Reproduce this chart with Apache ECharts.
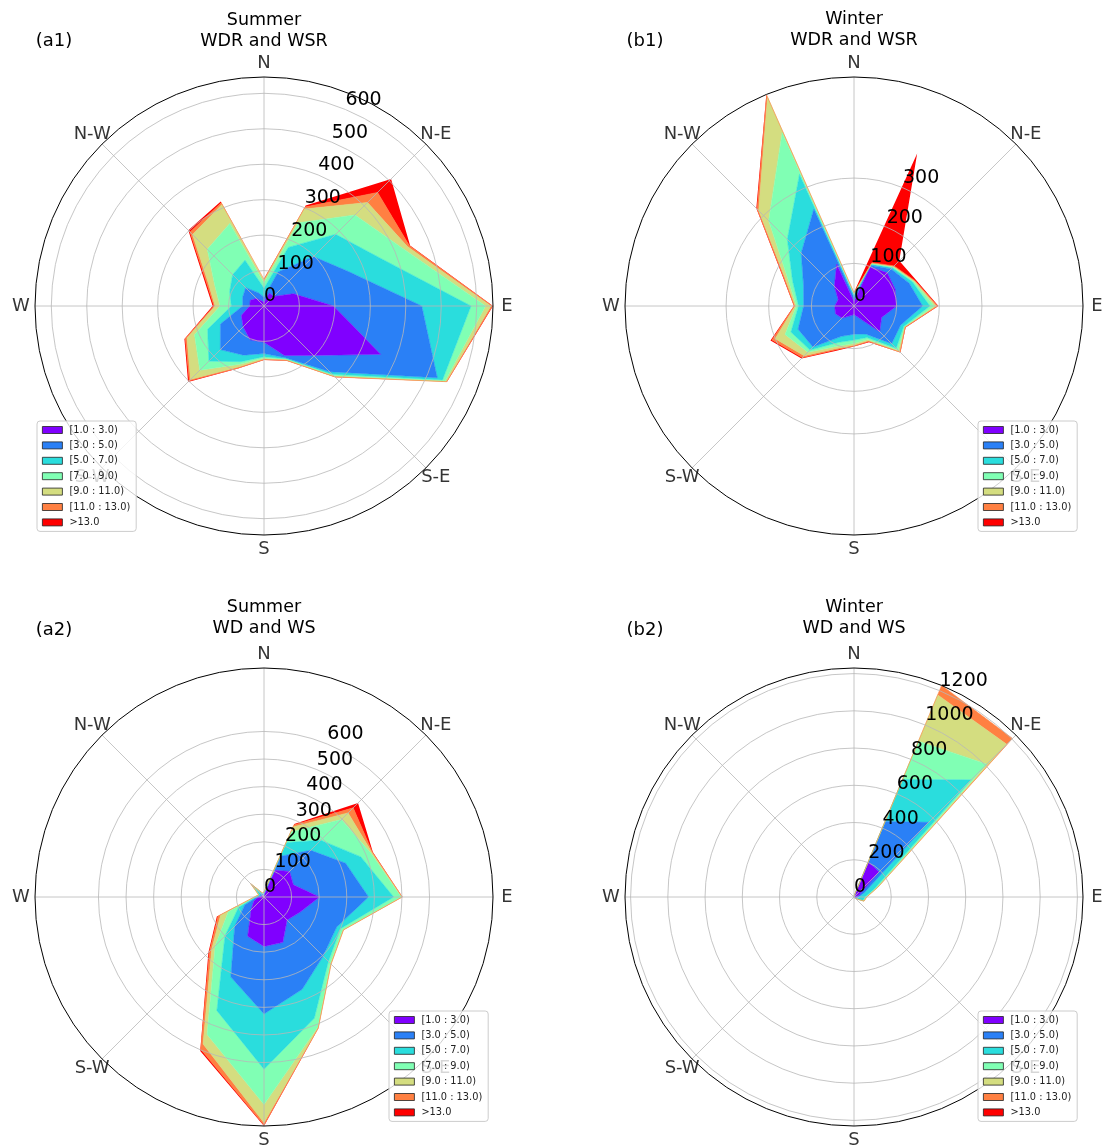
<!DOCTYPE html>
<html>
<head>
<meta charset="utf-8">
<script src="https://cdn.jsdelivr.net/npm/echarts@6/dist/echarts.min.js"></script>
<style>
html,body{margin:0;padding:0;background:#ffffff;}
#chart{width:1105px;height:1146px;}
</style>
</head>
<body>
<div id="chart"></div>
<script>
// ---------- categories ----------
const directions = ['N','NNE','NE','ENE','E','ESE','SE','SSE','S','SSW','SW','WSW','W','WNW','NW','NNW'];
const dirAngles  = [0,22.5,45,67.5,90,112.5,135,157.5,180,202.5,225,247.5,270,292.5,315,337.5];
const compassLabels = ['N','N-E','E','S-E','S','S-W','W','N-W'];
const compassAngles = [0,45,90,135,180,225,270,315];
const binNames = ['[1.0 : 3.0)','[3.0 : 5.0)','[5.0 : 7.0)','[7.0 : 9.0)','[9.0 : 11.0)','[11.0 : 13.0)','>13.0'];

// ---------- (a1) Summer, WDR and WSR : counts per speed bin, directions N..NNW ----------
const a1_bin1 = [10,40,38,90,196,356,197,151,102,103,83,69,40,42,30,15];
const a1_bin2 = [15,64,159,166,249,173,65,7,32,47,91,64,20,23,43,25];
const a1_bin3 = [25,75,89,98,139,16,10,3,9,20,46,39,32,40,52,100];
const a1_bin4 = [15,75,77,70,41,8,6,2,4,8,36,40,32,45,101,112];
const a1_bin5 = [7,42,50,14,15,4,3,2,3,8,37,23,14,20,59,58];
const a1_bin6 = [3,6,40,6,4,1,2,1,1,3,5,5,3,6,10,5];
const a1_bin7 = [2,5,54,2,2,1,1,1,1,2,5,3,4,5,7,4];

// ---------- (b1) Winter, WDR and WSR ----------
const b1_bin1 = [10,99,110,104,100,70,85,30,20,25,40,47,45,40,65,106];
const b1_bin2 = [10,4,13,36,61,48,40,41,46,52,96,95,73,88,110,140];
const b1_bin3 = [5,3,4,8,17,8,15,9,14,15,10,18,12,28,46,88];
const b1_bin4 = [3,1,2,3,10,2,7,5,8,10,7,15,5,12,62,106];
const b1_bin5 = [2,1,2,2,5,1,4,3,4,6,12,25,3,8,33,90];
const b1_bin6 = [1,2,2,2,3,1,2,2,2,3,6,8,2,3,5,5];
const b1_bin7 = [1,277,17,3,2,1,1,2,1,3,3,4,1,2,3,2];

// ---------- (a2) Summer, WD and WS ----------
const a2_bin1 = [5,105,131,115,201,142,118,178,179,154,66,40,20,8,10,5];
const a2_bin2 = [5,55,108,205,178,143,185,184,245,160,84,35,5,4,10,3];
const a2_bin3 = [5,54,52,60,91,15,27,114,200,132,50,25,5,6,25,4];
const a2_bin4 = [2,41,106,38,27,9,10,34,128,93,50,40,3,2,20,3];
const a2_bin5 = [1,20,34,5,3,2,3,3,66,38,18,30,2,1,3,1];
const a2_bin6 = [0,7,26,2,1,1,1,1,8,21,11,10,0,0,1,0];
const a2_bin7 = [0,4,25,2,1,0,0,1,4,6,6,5,0,0,1,0];

// ---------- (b2) Winter, WD and WS ----------
const b2_bin1 = [2,204,190,30,10,10,5,2,2,2,2,2,2,2,2,2];
const b2_bin2 = [1,235,377,30,15,10,3,1,1,1,1,1,1,1,1,1];
const b2_bin3 = [1,244,323,60,35,30,2,1,1,1,1,1,1,1,1,1];
const b2_bin4 = [1,222,119,15,6,5,1,0,0,0,0,0,0,0,0,0];
const b2_bin5 = [0,270,151,3,2,2,0,0,0,0,0,0,0,0,0,0];
const b2_bin6 = [0,55,44,2,1,1,0,0,0,0,0,0,0,0,0,0];
const b2_bin7 = [0,0,0,0,0,0,0,0,0,0,0,0,0,0,0,0];

// radial tick labels shown on each rose
const a1_ticks = [0,100,200,300,400,500,600];
const b1_ticks = [0,100,200,300];
const a2_ticks = [0,100,200,300,400,500,600];
const b2_ticks = [0,200,400,600,800,1000,1200];

// ---------- styles / layout ----------
const binColors = ['#8000ff','#2a80f6','#2adddd','#80ffb4','#d4dd80','#ff8042','#ff0000'];
const FONT = 'DejaVu Sans';
const R = 229;
const panels = [
  {tag:'(a1)', title:'Summer\nWDR and WSR', bins:[a1_bin1,a1_bin2,a1_bin3,a1_bin4,a1_bin5,a1_bin6,a1_bin7], ticks:a1_ticks,
   center:[264,306], titleTop:10, tagPos:[54,32], legend:{left:37, top:421}},
  {tag:'(b1)', title:'Winter\nWDR and WSR', bins:[b1_bin1,b1_bin2,b1_bin3,b1_bin4,b1_bin5,b1_bin6,b1_bin7], ticks:b1_ticks,
   center:[854,306], titleTop:9, tagPos:[645,32], legend:{left:978, top:421}},
  {tag:'(a2)', title:'Summer\nWD and WS', bins:[a2_bin1,a2_bin2,a2_bin3,a2_bin4,a2_bin5,a2_bin6,a2_bin7], ticks:a2_ticks,
   center:[264,897], titleTop:597, tagPos:[54,621], legend:{left:389, top:1011}},
  {tag:'(b2)', title:'Winter\nWD and WS', bins:[b2_bin1,b2_bin2,b2_bin3,b2_bin4,b2_bin5,b2_bin6,b2_bin7], ticks:b2_ticks,
   center:[854,897], titleTop:597, tagPos:[645,621], legend:{left:978, top:1011}}
];

const polar = [], angleAxis = [], radiusAxis = [], series = [], title = [], legend = [];
const gridColor = '#b8b8b8';

panels.forEach((p, i) => {
  const totals = directions.map((d, j) => p.bins.reduce((s, b) => s + b[j], 0));
  const rmax = Math.max(...totals);
  const ringMax = p.ticks[p.ticks.length - 1];
  const ringStep = p.ticks[1] - p.ticks[0];
  const dp = 3 * i, gp = 3 * i + 1, lp = 3 * i + 2;

  // data polar (outer circle + spokes)
  polar.push({center: p.center, radius: R});
  angleAxis.push({polarIndex: dp, type: 'value', min: 0, max: 360, interval: 45, startAngle: 90, clockwise: true, z: 10,
    axisLine: {show: true, lineStyle: {color: '#000', width: 1}}, axisTick: {show: false}, axisLabel: {show: false},
    splitLine: {show: true, lineStyle: {color: gridColor, width: 0.8}}});
  radiusAxis.push({polarIndex: dp, type: 'value', min: 0, max: rmax,
    axisLine: {show: false}, axisTick: {show: false}, axisLabel: {show: false}, splitLine: {show: false}});

  // ring polar (radial grid circles + labels at 22.5 deg east of north)
  polar.push({center: p.center, radius: R * ringMax / rmax});
  angleAxis.push({polarIndex: gp, type: 'value', min: 0, max: 360, startAngle: 67.5, clockwise: true,
    axisLine: {show: false}, axisTick: {show: false}, axisLabel: {show: false}, splitLine: {show: false}});
  radiusAxis.push({polarIndex: gp, type: 'value', min: 0, max: ringMax, interval: ringStep, z: 10,
    axisLine: {show: false}, axisTick: {show: false},
    axisLabel: {show: true, color: '#000', fontSize: 19, fontFamily: FONT, align: 'left', verticalAlign: 'bottom', margin: 0,
                showMinLabel: true, showMaxLabel: true, hideOverlap: false, formatter: v => String(v)},
    splitLine: {show: true, lineStyle: {color: gridColor, width: 0.8}}});

  // label polar (compass names)
  polar.push({center: p.center, radius: R + 14});
  angleAxis.push({polarIndex: lp, type: 'value', min: 0, max: 360, startAngle: 90, clockwise: true,
    axisLine: {show: false}, axisTick: {show: false}, axisLabel: {show: false}, splitLine: {show: false}});
  radiusAxis.push({polarIndex: lp, type: 'value', min: 0, max: 1,
    axisLine: {show: false}, axisTick: {show: false}, axisLabel: {show: false}, splitLine: {show: false}});

  // stacked filled rose
  p.bins.forEach((b, k) => {
    const pts = dirAngles.map((a, j) => [b[j], a]);
    pts.push([b[0], 360]);
    const last = k === p.bins.length - 1;
    series.push({type: 'line', name: binNames[k], coordinateSystem: 'polar', polarIndex: dp, stack: 'rose' + i,
      data: pts, symbol: 'none', smooth: false, color: binColors[k],
      lineStyle: {color: binColors[k], width: last ? 0 : 0.6}, itemStyle: {color: binColors[k]},
      areaStyle: {color: binColors[k], opacity: 1}, z: 2, silent: true});
  });

  // compass labels
  series.push({type: 'scatter', coordinateSystem: 'polar', polarIndex: lp, silent: true, symbolSize: 1,
    itemStyle: {color: 'rgba(0,0,0,0)'}, z: 3,
    data: compassLabels.map((n, j) => ({name: n, value: [1, compassAngles[j]]})),
    label: {show: true, position: 'inside', formatter: '{b}', fontSize: 18, color: '#000', fontFamily: FONT}});

  title.push({text: p.title, left: p.center[0], top: p.titleTop, textAlign: 'center', padding: 0, itemGap: 0,
    textStyle: {fontSize: 17.5, fontWeight: 'normal', color: '#000', fontFamily: FONT, lineHeight: 21}});
  title.push({text: p.tag, left: p.tagPos[0], top: p.tagPos[1], textAlign: 'center', padding: 0,
    textStyle: {fontSize: 18, fontWeight: 'normal', color: '#000', fontFamily: FONT}});

  legend.push({data: binNames, orient: 'vertical', left: p.legend.left, top: p.legend.top, icon: 'rect',
    itemWidth: 20, itemHeight: 7, itemGap: 3.4, padding: [3, 6, 3, 5], selectedMode: false, z: 20,
    backgroundColor: 'rgba(255,255,255,0.8)', borderColor: '#cccccc', borderWidth: 1, borderRadius: 3,
    itemStyle: {borderColor: '#222', borderWidth: 0.8},
    textStyle: {fontSize: 9.8, lineHeight: 12, color: '#222', fontFamily: FONT, padding: [0, 0, 0, 2]}});
});

const chart = echarts.init(document.getElementById('chart'), null, {renderer: 'canvas'});
chart.setOption({animation: false, backgroundColor: '#ffffff', polar, angleAxis, radiusAxis, series, title, legend});
</script>
</body>
</html>
